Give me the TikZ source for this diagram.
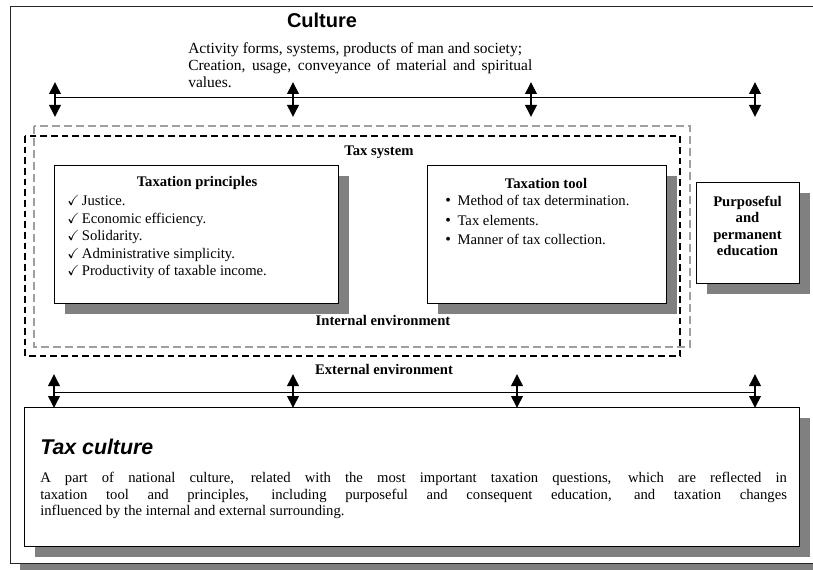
\documentclass[tikz,border=0pt]{standalone}
\usepackage{amsmath}
\usepackage{amssymb}
\usepackage{fontspec}
\setmainfont{Liberation Serif}
\newfontfamily\arialfont{Liberation Sans}
\usetikzlibrary{arrows.meta,shadows}

\tikzset{
  box/.style={draw,line width=1pt,fill=white,anchor=north west,inner sep=0pt,
    drop shadow={shadow xshift=7.5pt,shadow yshift=-7.5pt,fill=gray,opacity=1}},
  twoway/.style={{Triangle[length=9pt,width=8.5pt]}-{Triangle[length=9pt,width=8.5pt]},line width=1.9pt},
  txt/.style={font=\fontsize{11}{13}\selectfont,inner sep=0pt},
  head/.style={font=\fontsize{11}{13}\selectfont\bfseries,inner sep=0pt},
}

\begin{document}
\begin{tikzpicture}[x=0.75pt,y=-0.75pt]
\useasboundingbox (0,0) rectangle (813,570);

% outer frame, running off the right edge
\fill[gray] (20,563) rectangle (813,570);
\draw[line width=0.75pt,draw=black!85] (813,7) -- (10,7) -- (10,563) -- (813,563);
\node[font=\arialfont\bfseries\fontsize{15}{18}\selectfont,inner sep=0pt] (culture) at (322,20) {Culture};
\node[txt,anchor=north west,text width=258pt,align=justify,font=\fontsize{11.6}{13}\selectfont] (culturetext) at (188,42)
  {Activity forms, systems, products of man and society;\\ Creation, usage, conveyance of material and spiritual\linebreak values.};

% top arrows
\foreach \x/\n in {55/a,293/b,531/c,755/d}{
  \coordinate (t\n1) at (\x,82);
  \coordinate (t\n2) at (\x,117);
  \draw[twoway] (t\n1) -- (t\n2);
}
\draw[line width=0.75pt] (ta1|-0,98) -- (td1|-0,98);

% environments
\draw[gray!75,line width=1.2pt,dash pattern=on 6pt off 3pt] (34,126) rectangle (690,347);
\draw[line width=1.5pt,dash pattern=on 5pt off 3pt] (25,136) rectangle (680,356);
\node[head] (taxsystem) at (379,152) {Tax system};
\node[head] (internal) at (383,320) {Internal environment};
\node[head] (external) at (384,369) {External environment};

% principles
\node[box,minimum width=213pt,minimum height=103.5pt] (princbox) at (54,165) {};
\node[head] (princtitle) at (197,183) {Taxation principles};
\node[txt,anchor=north west,align=left,font=\fontsize{11}{13.2}\selectfont] (princlist) at (67,195)
  {$\boldsymbol{\checkmark}$\,Justice.\\
   $\boldsymbol{\checkmark}$\,Economic efficiency.\\
   $\boldsymbol{\checkmark}$\,Solidarity.\\
   $\boldsymbol{\checkmark}$\,Administrative simplicity.\\
   $\boldsymbol{\checkmark}$\,Productivity of taxable income.};

% tool
\node[box,minimum width=179.25pt,minimum height=103.5pt] (toolbox) at (427,165) {};
\node[head] (tooltitle) at (546,183) {Taxation tool};
\node[txt,anchor=north west,align=left,font=\fontsize{11}{14.6}\selectfont] (toollist) at (445,195)
  {{\large\textbullet}\hspace{5pt}Method of tax determination.\\
   {\large\textbullet}\hspace{5pt}Tax elements.\\
   {\large\textbullet}\hspace{5pt}Manner of tax collection.};

% education
\node[box,minimum width=77.25pt,minimum height=75.75pt] (edubox) at (696,182) {};
\node[head,align=center,font=\fontsize{11}{12.4}\selectfont\bfseries] (edu) at (747.5,226)
  {Purposeful\\ and\\ permanent\\ education};

% bottom arrows
\foreach \x/\n in {54/a,293/b,517/c,755/d}{
  \coordinate (b\n1) at (\x,374);
  \coordinate (b\n2) at (\x,408);
  \draw[twoway] (b\n1) -- (b\n2);
}
\draw[line width=0.75pt] (ba1|-0,392) -- (bd1|-0,392);

% tax culture
\node[box,minimum width=581.25pt,minimum height=104.25pt] (taxculturebox) at (24,407) {};
\node[anchor=west,inner sep=0pt,font=\arialfont\bfseries\itshape\fontsize{16}{19}\selectfont] (taxculture) at (40,447) {Tax culture};
\node[txt,anchor=north west,text width=560pt,align=justify,font=\fontsize{11}{12.4}\selectfont] (taxculturetext) at (40,472)
  {A part of national culture, related with the most important taxation questions, which are reflected in\linebreak
   taxation tool and principles, including purposeful and consequent education, and taxation changes\linebreak
   influenced by the internal and external surrounding.};

\end{tikzpicture}
\end{document}
